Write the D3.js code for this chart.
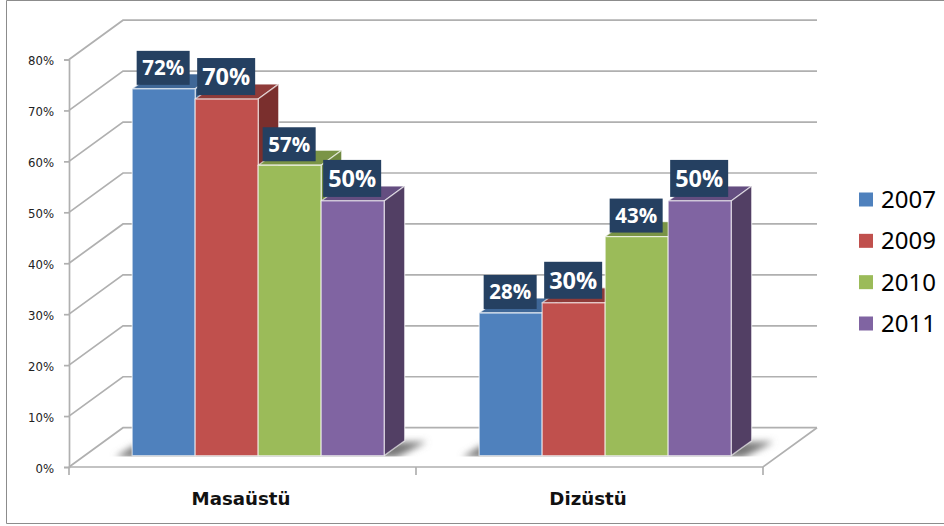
<!DOCTYPE html>
<html>
<head>
<meta charset="utf-8">
<script src="https://cdn.jsdelivr.net/npm/d3@7"></script>
<style>
  html, body { margin: 0; padding: 0; background: #fff; }
  svg { display: block; }
</style>
</head>
<body>
<div id="chart"></div>
<script>
const categories = ['Masaüstü', 'Dizüstü'];
const seriesNames = ['2007', '2009', '2010', '2011'];
const yTicks = [0, 10, 20, 30, 40, 50, 60, 70, 80];
// one list per year, same order as categories
const values2007 = [72, 28];
const values2009 = [70, 30];
const values2010 = [57, 43];
const values2011 = [50, 50];

const seriesValues = [values2007, values2009, values2010, values2011];
const frontColors = ['#4f81bd', '#c0504d', '#9bbb59', '#8064a2'];
const topColors = ['#3f6797', '#8f3b39', '#7a9446', '#644e80'];
const sideColors = ['#3a5f8b', '#7a2f2d', '#6f8840', '#523f64'];

const width = 944, height = 526;

// plot box of the front plane, the floor and walls go back by depth
const plot = { left: 69, right: 763, top: 59.5, bottom: 467 };
const depth = { x: 54, y: -39.3 };
const barDepth = { near: .29, far: .67 };

const svg = d3.select('#chart').append('svg')
  .attr('width', width)
  .attr('height', height);

const y = d3.scaleLinear().domain([0, 80]).range([plot.bottom, plot.top]);
const x = d3.scaleBand().domain(categories).range([plot.left, plot.right]);
const xBar = d3.scaleBand().domain(seriesNames).range([0, 252]);

const gridColor = '#b0b0b0';

const defs = svg.append('defs');
const blur = defs.append('filter')
  .attr('id', 'shadow-blur')
  .attr('x', '-20%').attr('width', '140%')
  .attr('y', '-60%').attr('height', '220%');
blur.append('feGaussianBlur')
  .attr('stdDeviation', 3.5);

const groundY = plot.bottom + depth.y * barDepth.near;
defs.append('clipPath')
  .attr('id', 'floor-clip')
  .append('rect')
  .attr('x', 0)
  .attr('y', 0)
  .attr('width', width)
  .attr('height', groundY + 1);

// outer frame, the picture is cut off on the right so no line there
svg.append('path')
  .attr('d', `M${width},.5H6.5V523.5H${width}`)
  .attr('fill', 'none')
  .attr('stroke', '#8c8c8c')
  .attr('stroke-width', 1);

// walls: back line and the diagonal on the left side wall
const gGrid = svg.append('g')
  .attr('fill', 'none')
  .attr('stroke', gridColor)
  .attr('stroke-width', 1.7);

gGrid.selectAll('path.grid')
  .data(yTicks)
  .enter()
  .append('path')
  .attr('class', 'grid')
  .attr('d', d => {
    const yPos = y(d);
    return `M${plot.left},${yPos}L${plot.left + depth.x},${yPos + depth.y}L${plot.right + depth.x},${yPos + depth.y}`;
  });

// floor front edge and right edge
gGrid.append('path')
  .attr('d', `M${plot.left},${plot.bottom}L${plot.right},${plot.bottom}L${plot.right + depth.x},${plot.bottom + depth.y}`);

const yAxis = d3.axisLeft(y)
  .tickValues(yTicks)
  .tickSize(5)
  .tickPadding(10)
  .tickFormat(d => `${d}%`);

const gAxis = svg.append('g')
  .attr('transform', `translate(${plot.left},0)`)
  .call(yAxis);
gAxis.select('.domain').attr('stroke', gridColor).attr('stroke-width', 1.7);
gAxis.selectAll('line').attr('stroke', gridColor).attr('stroke-width', 1.7);
gAxis.selectAll('text')
  .attr('font-family', '"DejaVu Sans", sans-serif')
  .attr('font-size', 11.7)
  .attr('dy', '.45em')
  .attr('fill', '#222');

// ticks between categories
svg.append('g').selectAll('line')
  .data([plot.left, x(categories[1]), plot.right])
  .enter()
  .append('line')
  .attr('x1', d => d)
  .attr('x2', d => d)
  .attr('y1', plot.bottom)
  .attr('y2', plot.bottom + 8)
  .attr('stroke', gridColor)
  .attr('stroke-width', 1.7);

svg.append('g').selectAll('text')
  .data(categories)
  .enter()
  .append('text')
  .attr('x', d => x(d) + x.bandwidth() / 2 - 1.5)
  .attr('y', 505)
  .attr('text-anchor', 'middle')
  .attr('font-family', '"DejaVu Sans", sans-serif')
  .attr('font-weight', 'bold')
  .attr('font-size', 18.2)
  .attr('fill', '#111')
  .text(d => d);

const groupLeft = c => x(c) + (x.bandwidth() - xBar.range()[1]) / 2 + depth.x * barDepth.near;
const barHeight = v => plot.bottom - y(v);
const dz = {
  x: depth.x * (barDepth.far - barDepth.near),
  y: depth.y * (barDepth.far - barDepth.near)
};

// soft shadow on the floor, the bars cover most of it
const gShadow = svg.append('g')
  .attr('clip-path', 'url(#floor-clip)');

gShadow.selectAll('polygon')
  .data(categories)
  .enter()
  .append('polygon')
  .attr('points', c => {
    const x0 = groupLeft(c), x1 = x0 + xBar.range()[1];
    return [
      [x0 - 17, groundY + 2], [x0 + 2, groundY + dz.y + 5],
      [x1 + dz.x + 22, groundY + dz.y + 1], [x1 + 12, groundY + 2]
    ].join(' ');
  })
  .attr('fill', '#777')
  .attr('filter', 'url(#shadow-blur)');

const barRows = [];
categories.forEach((c, ci) => {
  seriesNames.forEach((s, si) => {
    barRows.push({ category: c, series: s, index: si, value: seriesValues[si][ci] });
  });
});
const barX = d => groupLeft(d.category) + xBar(d.series);
const barTop = d => groundY - barHeight(d.value);

const gBar = svg.append('g').selectAll('g')
  .data(barRows)
  .enter()
  .append('g')
  .attr('stroke', 'rgba(255,255,255,.6)')
  .attr('stroke-width', 1.3)
  .attr('stroke-linejoin', 'round');

// top face
gBar.append('polygon')
  .attr('fill', d => topColors[d.index])
  .attr('points', d => {
    const l = barX(d), r = l + xBar.bandwidth(), t = barTop(d);
    return [[l, t], [l + dz.x, t + dz.y], [r + dz.x, t + dz.y], [r, t]].join(' ');
  });

// right face
gBar.append('polygon')
  .attr('fill', d => sideColors[d.index])
  .attr('points', d => {
    const r = barX(d) + xBar.bandwidth(), t = barTop(d);
    return [[r, t], [r + dz.x, t + dz.y], [r + dz.x, groundY + dz.y], [r, groundY]].join(' ');
  });

// front face
gBar.append('rect')
  .attr('fill', d => frontColors[d.index])
  .attr('x', barX)
  .attr('y', barTop)
  .attr('width', xBar.bandwidth())
  .attr('height', d => barHeight(d.value));

// the value boxes alternate between two sizes in the original
const labelStyle = i => i % 2 === 1
  ? { dx: 2, dy: -41, w: 58, h: 37, font: 23.5 }
  : { dx: 4.5, dy: -38, w: 53, h: 34, font: 20.5 };

const gLabel = svg.append('g').selectAll('g')
  .data(barRows)
  .enter()
  .append('g')
  .attr('transform', d => {
    const s = labelStyle(d.index);
    return `translate(${barX(d) + s.dx},${barTop(d) + s.dy})`;
  });

gLabel.append('rect')
  .attr('width', d => labelStyle(d.index).w)
  .attr('height', d => labelStyle(d.index).h)
  .attr('fill', '#254061');

gLabel.append('text')
  .attr('x', d => labelStyle(d.index).w / 2)
  .attr('y', d => labelStyle(d.index).h / 2)
  .attr('dy', '.36em')
  .attr('text-anchor', 'middle')
  .attr('font-family', '"Open Sans", sans-serif')
  .attr('font-weight', 700)
  .attr('font-size', d => labelStyle(d.index).font)
  .attr('fill', '#fff')
  .text(d => `${d.value}%`);

// legend
const legendY = d3.scalePoint().domain(seriesNames).range([199.5, 323.5]);
const gLegend = svg.append('g').selectAll('g')
  .data(seriesNames)
  .enter()
  .append('g')
  .attr('transform', d => `translate(859,${legendY(d)})`);

gLegend.append('rect')
  .attr('y', -7)
  .attr('width', 14)
  .attr('height', 14)
  .attr('fill', (d, i) => frontColors[i]);

gLegend.append('text')
  .attr('x', 22)
  .attr('dy', '.36em')
  .attr('font-family', '"Noto Sans", sans-serif')
  .attr('font-size', 24)
  .attr('fill', '#000')
  .text(d => d);
</script>
</body>
</html>
